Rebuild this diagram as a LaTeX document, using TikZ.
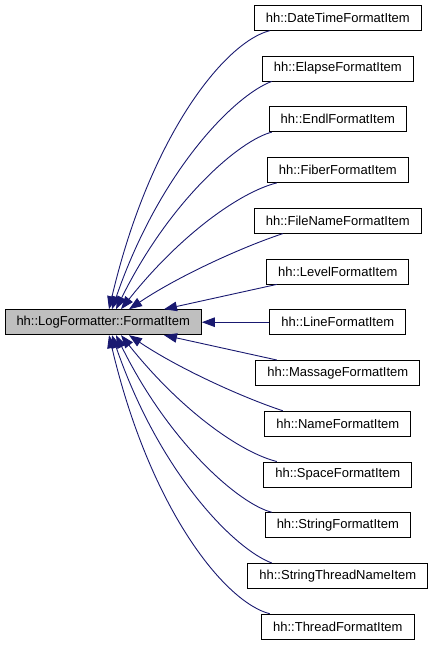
\documentclass[tikz,border=0pt]{standalone}
\usepackage{fontspec}
\setmainfont{Liberation Sans}
\usetikzlibrary{arrows.meta}
\definecolor{edgeblue}{HTML}{191970}
\definecolor{basegray}{HTML}{BFBFBF}
\begin{document}
\begin{tikzpicture}[x=1pt,y=-1pt,
  cls/.style={draw=black, line width=0.9pt, fill=white, minimum height=25pt,
    inner xsep=11.5pt, inner ysep=0pt, font=\fontsize{13}{15}\selectfont},
  basecls/.style={cls, fill=basegray},
  inh/.style={draw=edgeblue, line width=0.9pt, -{Triangle[length=13pt,width=9.5pt]}}]
\useasboundingbox (0,0) rectangle (433,645);
\node[basecls] (b) at (103.2,322.2) {hh::LogFormatter::FormatItem};
\node[cls] (n1) at (337.8,17.7) {hh::DateTimeFormatItem};
\node[cls] (n2) at (337.8,68.45) {hh::ElapseFormatItem};
\node[cls] (n3) at (337.8,119.2) {hh::EndlFormatItem};
\node[cls] (n4) at (337.8,169.95) {hh::FiberFormatItem};
\node[cls] (n5) at (337.8,220.7) {hh::FileNameFormatItem};
\node[cls] (n6) at (337.8,271.45) {hh::LevelFormatItem};
\node[cls] (n7) at (337.8,322.2) {hh::LineFormatItem};
\node[cls] (n8) at (337.8,372.95) {hh::MassageFormatItem};
\node[cls] (n9) at (337.8,423.7) {hh::NameFormatItem};
\node[cls] (n10) at (337.8,474.45) {hh::SpaceFormatItem};
\node[cls] (n11) at (337.8,525.2) {hh::StringFormatItem};
\node[cls] (n12) at (337.8,575.95) {hh::StringThreadNameItem};
\node[cls] (n13) at (337.8,626.7) {hh::ThreadFormatItem};
\draw[inh] ([xshift=-68pt]n1.south) .. controls (225,42) and (150,135) .. ([xshift=5.8pt]b.north);
\draw[inh] ([xshift=-66pt]n2.south) .. controls (235,95) and (160,170) .. ([xshift=8.8pt]b.north);
\draw[inh] ([xshift=-66pt]n3.south) .. controls (240,140) and (170,200) .. ([xshift=12.8pt]b.north);
\draw[inh] ([xshift=-61pt]n4.south) .. controls (240,192) and (180,235) .. ([xshift=17.8pt]b.north);
\draw[inh] ([xshift=-55pt]n5.south) .. controls (245,246) and (180,275) .. ([xshift=25.8pt]b.north);
\draw[inh] ([xshift=-61pt]n6.south) -- ([xshift=60.8pt]b.north);
\draw[inh] (n7.west) -- (b.east);
\draw[inh] ([xshift=-61pt]n8.north) -- ([xshift=60.8pt]b.south);
\draw[inh] ([xshift=-55pt]n9.north) .. controls (245,398.4) and (180,369.4) .. ([xshift=25.8pt]b.south);
\draw[inh] ([xshift=-61pt]n10.north) .. controls (240,452.4) and (180,409.4) .. ([xshift=17.8pt]b.south);
\draw[inh] ([xshift=-66pt]n11.north) .. controls (240,504.4) and (170,444.4) .. ([xshift=12.8pt]b.south);
\draw[inh] ([xshift=-66pt]n12.north) .. controls (235,549.4) and (160,474.4) .. ([xshift=8.8pt]b.south);
\draw[inh] ([xshift=-68pt]n13.north) .. controls (225,602.4) and (150,509.4) .. ([xshift=5.8pt]b.south);
\end{tikzpicture}
\end{document}
